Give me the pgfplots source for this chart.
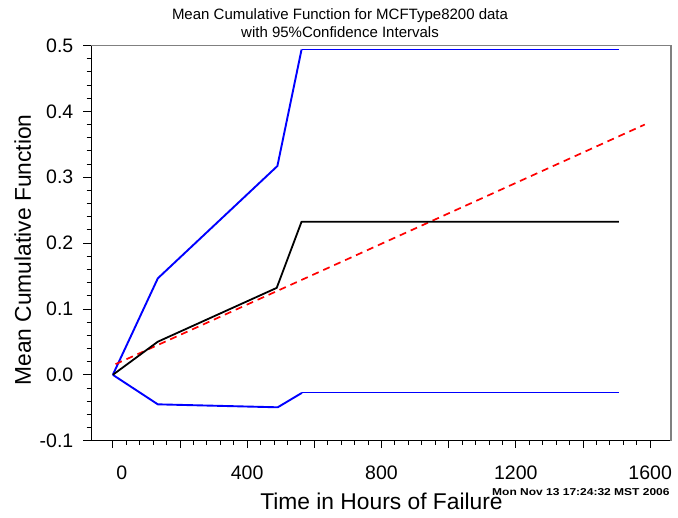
\documentclass[border=0pt]{standalone}
\usepackage{fontspec}
\setmainfont{Liberation Sans}
\usepackage{graphicx}
\usepackage{pgfplots}
\pgfplotsset{compat=1.18}
\definecolor{mcfblue}{RGB}{0,0,255}
\definecolor{mcfred}{RGB}{255,0,0}
\definecolor{boxgray}{RGB}{128,128,128}
\begin{document}
\begin{tikzpicture}
\path[use as bounding box] (-91pt,-77.3pt) rectangle (587pt,440.7pt);
\begin{axis}[
  at={(0pt,0pt)}, anchor=south west,
  width=580pt, height=395.2pt, scale only axis,
  xmin=-65, xmax=1662, ymin=-0.1, ymax=0.5,
  axis x line*=bottom, axis y line*=left,
  axis line style={black, line width=0.9pt, -},
  tick align=outside,
  xtick={0,200,...,1600}, xticklabels={\hspace*{18pt}0,,400,,800,,1200,,1600},
  minor x tick num=4,
  ytick={-0.1,0,0.1,0.2,0.3,0.4,0.5},
  yticklabels={-0.1,0.0,0.1,0.2,0.3,0.4,0.5},
  minor y tick num=4,
  major tick length=7.5pt, minor tick length=4.3pt,
  every tick/.style={black, line width=0.9pt},
  tick label style={font=\fontsize{19.5}{20}\selectfont},
  xticklabel style={inner sep=0pt, anchor=north, yshift=-17.8pt},
  yticklabel style={inner sep=0pt, anchor=east, xshift=-10pt},
  clip=false,
]
\draw[boxgray, line width=1.7pt] (rel axis cs:0,1) -- (rel axis cs:1,1) -- (rel axis cs:1,0);
% upper confidence bound
\addplot[mcfblue, line width=1.9pt, line join=round] coordinates {
  (0,0) (134,0.1465) (490,0.317) (562,0.494)};
\addplot[mcfblue, line width=1.1pt] coordinates {
  (562,0.494) (1507,0.494)};
% lower confidence bound
\addplot[mcfblue, line width=1.9pt, line join=round] coordinates {
  (0,0) (134,-0.0448) (491,-0.0493) (563,-0.0274)};
\addplot[mcfblue, line width=1.1pt] coordinates {
  (563,-0.0274) (1507,-0.0274)};
% fitted model
\addplot[mcfred, line width=1.7pt, dash pattern=on 7pt off 5pt] coordinates {
  (8,0.0162) (1584,0.380)};
% MCF estimate
\addplot[black, line width=1.8pt, line join=round] coordinates {
  (0,0) (134,0.0503) (488,0.132) (562,0.2325) (1507,0.2325)};
\end{axis}
\node[align=center, anchor=north, inner sep=0pt, font=\fontsize{15}{18}\selectfont]
  at (249pt,432.7pt) {Mean Cumulative Function for MCFType8200 data\\with 95\%Confidence Intervals};
\node[anchor=base, inner sep=0pt, font=\fontsize{22.8}{24}\selectfont]
  at (290.5pt,-69.3pt) {Time in Hours of Failure};
\node[anchor=base, inner sep=0pt, rotate=90, font=\fontsize{22.8}{24}\selectfont]
  at (-60pt,190.7pt) {Mean Cumulative Function};
\node[anchor=base west, inner sep=0pt, font=\fontsize{10}{12}\selectfont\bfseries]
  at (401pt,-55.3pt) {\scalebox{1.2}[1]{Mon Nov 13 17:24:32 MST 2006}};
\end{tikzpicture}
\end{document}
